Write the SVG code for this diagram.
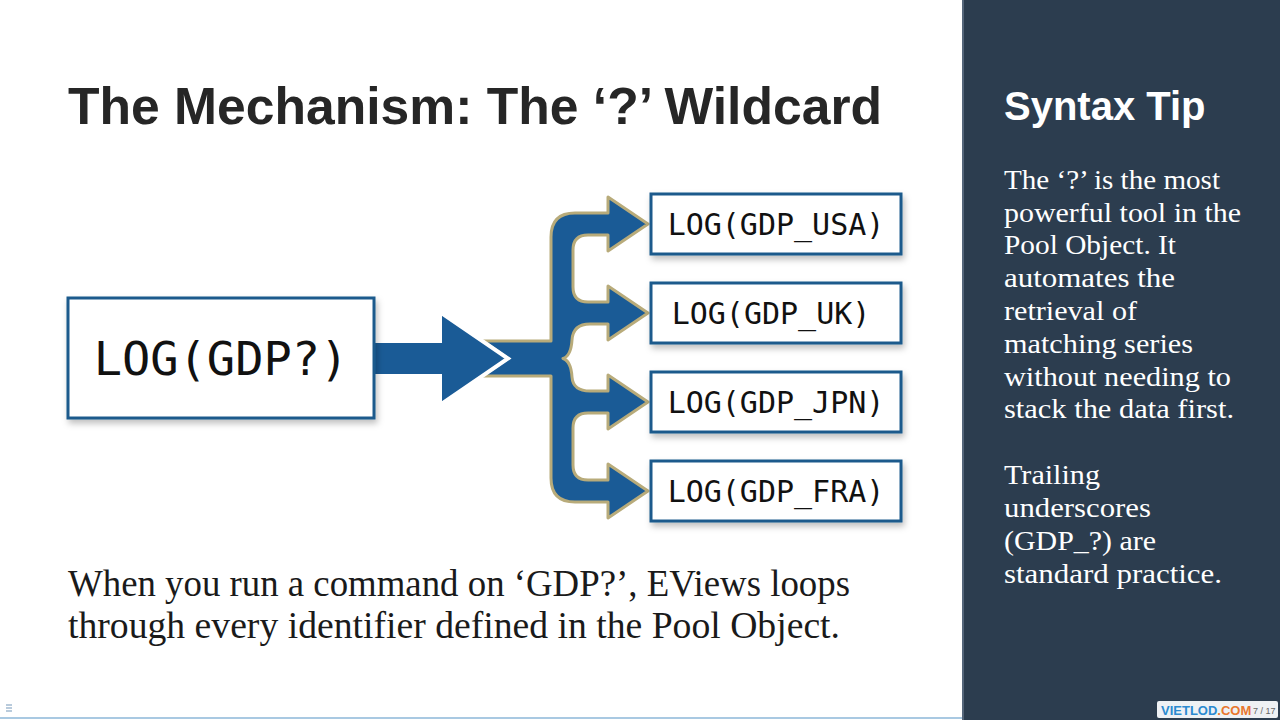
<svg xmlns="http://www.w3.org/2000/svg" width="1280" height="720" viewBox="0 0 1280 720">
  <style>
    .title { font-family: "Liberation Sans", Arial, sans-serif; font-weight: bold; font-size: 52px; fill: #262626; }
    .mono { font-family: "DejaVu Sans Mono", "Liberation Mono", monospace; fill: #111111; }
    .box { fill: #ffffff; stroke: #1d5a8c; stroke-width: 3; }
    .body { font-family: "Liberation Serif", "Times New Roman", serif; font-size: 37px; fill: #1a1a1a; }
    .panelHead { font-family: "Liberation Sans", Arial, sans-serif; font-weight: bold; font-size: 40px; fill: #ffffff; }
    .panelText { font-family: "Liberation Serif", "Times New Roman", serif; font-size: 28px; fill: #ffffff; }
  </style>
  <defs>
    <filter id="shadow" x="-10%" y="-10%" width="130%" height="140%">
      <feDropShadow dx="2" dy="4" stdDeviation="3" flood-color="#000000" flood-opacity="0.25"/>
    </filter>
  </defs>

  <rect x="0" y="0" width="1280" height="720" fill="#ffffff"/>

  <text class="title" x="68" y="124" textLength="814" lengthAdjust="spacingAndGlyphs">The Mechanism: The ‘?’ Wildcard</text>

  <g id="connectors">
    <path id="fork" d="M483,341 H551 V237 Q551,213 575,213 H608 V197 L648,224 L608,251 V235 H588 Q573,235 573,250 V287 Q573,302 588,302 H608 V286 L648,313 L608,340 V324 H590 Q573,324 572,340 Q571,356 563,358.5 Q571,361 572,377 Q573,391 590,391 H608 V375 L648,402 L608,429 V413 H588 Q573,413 573,428 V465 Q573,480 588,480 H608 V464 L648,491 L608,518 V502 H575 Q551,502 551,478 V376 H482 L508,358.5 Z" fill="#1a5b96" stroke="#b8ab7a" stroke-width="3" stroke-linejoin="round"/>
    <polygon id="main-arrow" points="372,341 440,341 440,312 508,358.5 440,405 440,376 372,376" fill="#1a5b96" stroke="#ffffff" stroke-width="4" stroke-linejoin="miter"/>
  </g>

  <g id="node-source">
    <rect class="box" x="68" y="298" width="306" height="120" filter="url(#shadow)"/>
    <text class="mono" x="221" y="375" font-size="47" text-anchor="middle">LOG(GDP?)</text>
  </g>

  <g id="node-usa">
    <rect class="box" x="651" y="194" width="250" height="60" filter="url(#shadow)"/>
    <text class="mono" x="776" y="235" font-size="30" text-anchor="middle">LOG(GDP_USA)</text>
  </g>
  <g id="node-uk">
    <rect class="box" x="651" y="283" width="250" height="60" filter="url(#shadow)"/>
    <text class="mono" x="771" y="324" font-size="30" text-anchor="middle">LOG(GDP_UK)</text>
  </g>
  <g id="node-jpn">
    <rect class="box" x="651" y="372" width="250" height="60" filter="url(#shadow)"/>
    <text class="mono" x="776" y="413" font-size="30" text-anchor="middle">LOG(GDP_JPN)</text>
  </g>
  <g id="node-fra">
    <rect class="box" x="651" y="461" width="250" height="60" filter="url(#shadow)"/>
    <text class="mono" x="776" y="502" font-size="30" text-anchor="middle">LOG(GDP_FRA)</text>
  </g>

  <g id="caption">
    <text class="body" x="68" y="596" textLength="782" lengthAdjust="spacingAndGlyphs">When you run a command on ‘GDP?’, EViews loops</text>
    <text class="body" x="68" y="638" textLength="772" lengthAdjust="spacingAndGlyphs">through every identifier defined in the Pool Object.</text>
  </g>

  <g id="panel">
    <rect x="962" y="0" width="318" height="720" fill="#2c3d4f"/>
    <rect x="962" y="0" width="2" height="720" fill="#55667a"/>
    <text class="panelHead" x="1004" y="120">Syntax Tip</text>
    <text class="panelText" x="1004" y="189" textLength="216" lengthAdjust="spacingAndGlyphs">The ‘?’ is the most</text>
    <text class="panelText" x="1004" y="222" textLength="237" lengthAdjust="spacingAndGlyphs">powerful tool in the</text>
    <text class="panelText" x="1004" y="254" textLength="172" lengthAdjust="spacingAndGlyphs">Pool Object. It</text>
    <text class="panelText" x="1004" y="287" textLength="171" lengthAdjust="spacingAndGlyphs">automates the</text>
    <text class="panelText" x="1004" y="320" textLength="133" lengthAdjust="spacingAndGlyphs">retrieval of</text>
    <text class="panelText" x="1004" y="353" textLength="189" lengthAdjust="spacingAndGlyphs">matching series</text>
    <text class="panelText" x="1004" y="386" textLength="227" lengthAdjust="spacingAndGlyphs">without needing to</text>
    <text class="panelText" x="1004" y="418" textLength="230" lengthAdjust="spacingAndGlyphs">stack the data first.</text>
    <text class="panelText" x="1004" y="484" textLength="96" lengthAdjust="spacingAndGlyphs">Trailing</text>
    <text class="panelText" x="1004" y="517" textLength="147" lengthAdjust="spacingAndGlyphs">underscores</text>
    <text class="panelText" x="1004" y="550" textLength="152" lengthAdjust="spacingAndGlyphs">(GDP_?) are</text>
    <text class="panelText" x="1004" y="583" textLength="218" lengthAdjust="spacingAndGlyphs">standard practice.</text>
  </g>

  <g id="footer">
    <rect x="0" y="717" width="962" height="2" fill="#a9c9e2"/>
    <g stroke="#8aa8c4" stroke-width="1.2">
      <line x1="6" y1="705" x2="12" y2="705"/>
      <line x1="6" y1="708" x2="12" y2="708"/>
      <line x1="6" y1="711" x2="12" y2="711"/>
    </g>
    <rect x="1157" y="701" width="121" height="17" rx="2" fill="#eef1f4"/>
    <text x="1161" y="715" font-family="Liberation Sans, Arial, sans-serif" font-weight="bold" font-size="13"><tspan fill="#2b8ad0">VIETLOD</tspan><tspan fill="#e8772e">.COM</tspan></text>
    <text x="1253" y="714" font-family="Liberation Sans, Arial, sans-serif" font-size="9" fill="#666666">7 / 17</text>
  </g>
</svg>
